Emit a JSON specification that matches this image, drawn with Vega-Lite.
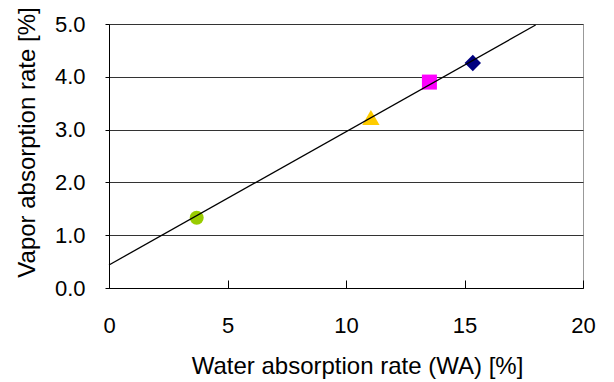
{
  "$schema": "https://vega.github.io/schema/vega-lite/v6.json",
  "width": 474,
  "height": 264,
  "autosize": {"type": "none"},
  "padding": {"left": 109, "top": 24, "right": 31, "bottom": 94},
  "background": "white",
  "config": {
    "font": "Liberation Sans",
    "view": {"stroke": "#999999", "strokeWidth": 1},
    "axis": {
      "labelColor": "black",
      "titleColor": "black",
      "titleFontWeight": "normal",
      "labelFont": "Liberation Sans",
      "titleFont": "Liberation Sans",
      "domainColor": "black",
      "tickColor": "black"
    }
  },
  "datasets": {
    "pts": [
      {"sample": "A", "wa": 3.70, "vapor": 1.33},
      {"sample": "B", "wa": 11.05, "vapor": 3.23},
      {"sample": "C", "wa": 13.52, "vapor": 3.90},
      {"sample": "D", "wa": 15.35, "vapor": 4.26}
    ],
    "fit": [
      {"wa": 0, "vapor": 0.436},
      {"wa": 18, "vapor": 4.98}
    ]
  },
  "layer": [
    {
      "data": {"name": "pts"},
      "mark": {"type": "point", "filled": true, "opacity": 1, "strokeWidth": 0},
      "encoding": {
        "x": {
          "field": "wa", "type": "quantitative",
          "scale": {"domain": [0, 20], "nice": false, "zero": false},
          "axis": {
            "title": "Water absorption rate (WA) [%]",
            "values": [0, 5, 10, 15, 20],
            "grid": false,
            "tickSize": -8,
            "labelPadding": 35,
            "labelFontSize": 22,
            "labelFlush": false,
            "titleFontSize": 24,
            "titlePadding": 18,
            "titleX": 248
          }
        },
        "y": {
          "field": "vapor", "type": "quantitative",
          "scale": {"domain": [0, 5], "nice": false, "zero": false},
          "axis": {
            "title": "Vapor absorption rate [%]",
            "values": [0, 1, 2, 3, 4, 5],
            "format": ".1f",
            "grid": true,
            "gridColor": "#333333",
            "gridOpacity": 1,
            "tickSize": 4,
            "labelPadding": 20,
            "labelFontSize": 22,
            "labelFlush": false,
            "titleFontSize": 24,
            "titlePadding": 15,
            "titleY": 118
          }
        },
        "shape": {
          "field": "sample", "type": "nominal",
          "scale": {"domain": ["A", "B", "C", "D"], "range": ["circle", "triangle-up", "square", "diamond"]},
          "legend": null
        },
        "color": {
          "field": "sample", "type": "nominal",
          "scale": {"domain": ["A", "B", "C", "D"], "range": ["#99CC00", "#FFCC00", "#FF00FF", "#000080"]},
          "legend": null
        },
        "size": {
          "field": "sample", "type": "nominal",
          "scale": {"type": "ordinal", "domain": ["A", "B", "C", "D"], "range": [196, 300, 225, 270]},
          "legend": null
        }
      }
    },
    {
      "data": {"name": "fit"},
      "mark": {"type": "line", "color": "black", "strokeWidth": 1.3},
      "encoding": {
        "x": {"field": "wa", "type": "quantitative"},
        "y": {"field": "vapor", "type": "quantitative"}
      }
    }
  ]
}
